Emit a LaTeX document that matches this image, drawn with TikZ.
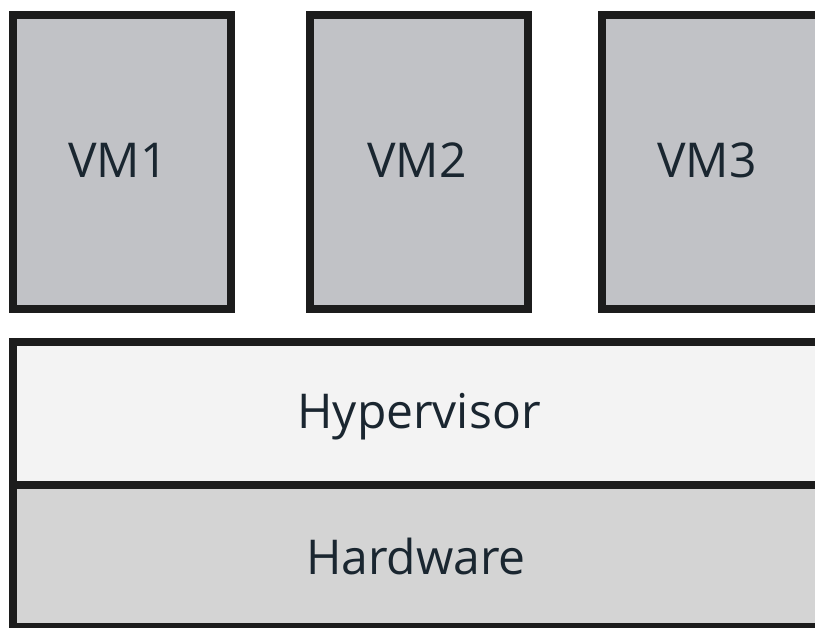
\documentclass[tikz,border=0pt]{standalone}
\usepackage{fontspec}
\setmainfont{Open Sans}
\definecolor{vmgray}{HTML}{C1C2C6}
\definecolor{hypgray}{HTML}{F3F3F3}
\definecolor{hwgray}{HTML}{D4D4D4}
\definecolor{edge}{HTML}{1C1C1C}
\definecolor{ink}{HTML}{1A2630}
\begin{document}
\begin{tikzpicture}[x=1pt,y=-1pt,
  box/.style={draw=edge,line width=8pt,rectangle,inner sep=0pt,outer sep=0pt},
  lbl/.style={text=ink,font=\fontsize{48}{56}\selectfont,inner sep=0pt,anchor=base}]
\useasboundingbox (0,0) rectangle (815,628);
\clip (0,0) rectangle (815,628);
\fill[white] (0,0) rectangle (815,628);
% VM boxes
\draw[box,fill=vmgray] (13,15) rectangle (231,309);
\draw[box,fill=vmgray] (310,15) rectangle (528,309);
\draw[box,fill=vmgray] (602,15) rectangle (840,309);
% lower layers
\draw[box,fill=hypgray] (13,342) rectangle (840,485);
\draw[box,fill=hwgray] (13,485) rectangle (840,627);
\node[lbl] (t1) at (118,178) {VM1};
\node[lbl] (t2) at (417,178) {VM2};
\node[lbl] (t3) at (707,178) {VM3};
\node[lbl] (thyp) at (419,429) {Hypervisor};
\node[lbl] (thw) at (416,575) {Hardware};
\end{tikzpicture}
\end{document}
